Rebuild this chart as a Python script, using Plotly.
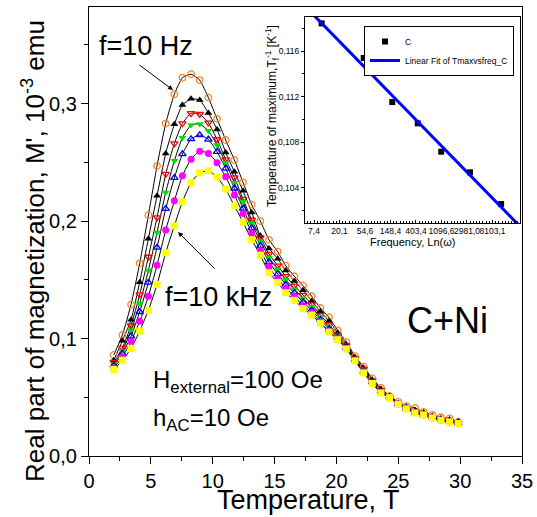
import numpy as np
import plotly.graph_objects as go

# ---------------- data: main panel ----------------
temps = [2.0, 2.7, 3.4, 4.1, 4.8, 5.5, 6.2, 6.9, 7.55, 8.25, 8.95, 9.65, 10.35, 11.05,
         11.75, 12.45, 13.15, 13.85, 14.55, 15.25, 15.9, 16.6, 17.3, 18.0, 18.7, 19.4,
         20.1, 20.8, 21.5, 22.2, 22.9, 23.6, 24.3, 25.0, 25.65, 26.35, 27.05, 27.75,
         28.45, 29.15, 29.85]

m_orange = [0.086, 0.103, 0.129, 0.164, 0.205, 0.247, 0.283, 0.308, 0.322, 0.325, 0.320,
            0.305, 0.287, 0.269, 0.252, 0.233, 0.214, 0.200, 0.184, 0.174, 0.162, 0.153,
            0.145, 0.136, 0.126, 0.118, 0.107, 0.097, 0.085, 0.076, 0.066, 0.058, 0.051,
            0.046, 0.0425, 0.041, 0.0375, 0.035, 0.033, 0.032, 0.029]
m_black = [0.0815, 0.098, 0.116, 0.148, 0.185, 0.2215, 0.2576, 0.2825, 0.2987, 0.304, 0.303,
           0.292, 0.278, 0.2584, 0.242, 0.2257, 0.2073, 0.1874, 0.1767, 0.168, 0.158, 0.149,
           0.141, 0.132, 0.123, 0.115, 0.105, 0.095, 0.084, 0.075, 0.065, 0.057, 0.051,
           0.045, 0.042, 0.039, 0.037, 0.034, 0.032, 0.031, 0.0295]
m_red = [0.080, 0.092, 0.111, 0.1375, 0.1695, 0.203, 0.240, 0.266, 0.283, 0.2917, 0.291,
         0.2837, 0.2695, 0.2524, 0.2371, 0.2187, 0.201, 0.186, 0.172, 0.162, 0.153, 0.145,
         0.137, 0.129, 0.120, 0.112, 0.103, 0.094, 0.083, 0.074, 0.064, 0.056, 0.050,
         0.045, 0.041, 0.038, 0.036, 0.033, 0.031, 0.030, 0.028]
m_green = [0.078, 0.0894, 0.107, 0.1298, 0.158, 0.1903, 0.2244, 0.2513, 0.2708, 0.2817, 0.2826,
           0.2768, 0.2647, 0.2496, 0.2325, 0.2164, 0.198, 0.183, 0.169, 0.159, 0.150, 0.142,
           0.134, 0.127, 0.118, 0.110, 0.102, 0.093, 0.082, 0.073, 0.063, 0.055, 0.050,
           0.0445, 0.041, 0.038, 0.0355, 0.033, 0.031, 0.0295, 0.028]
m_blue = [0.077, 0.0872, 0.102, 0.1227, 0.1477, 0.1775, 0.2104, 0.2368, 0.257, 0.2698, 0.2732,
          0.2695, 0.259, 0.2448, 0.2278, 0.2107, 0.194, 0.179, 0.165, 0.155, 0.146, 0.139,
          0.131, 0.124, 0.116, 0.108, 0.101, 0.092, 0.082, 0.072, 0.063, 0.055, 0.050,
          0.044, 0.0405, 0.037, 0.035, 0.033, 0.031, 0.0295, 0.028]
m_magenta = [0.075, 0.0843, 0.0977, 0.1147, 0.136, 0.1624, 0.1923, 0.2172, 0.2385, 0.2527, 0.2595,
             0.2576, 0.2496, 0.2377, 0.2221, 0.2065, 0.190, 0.175, 0.161, 0.151, 0.143, 0.136,
             0.128, 0.122, 0.114, 0.106, 0.100, 0.0915, 0.0815, 0.0715, 0.062, 0.054, 0.0495,
             0.0442, 0.0405, 0.037, 0.035, 0.0325, 0.0305, 0.029, 0.0278]
m_yellow = [0.0736, 0.0815, 0.0915, 0.1065, 0.124, 0.146, 0.173, 0.196, 0.2165, 0.2327, 0.241,
            0.2428, 0.2375, 0.2272, 0.213, 0.199, 0.184, 0.171, 0.156, 0.1477, 0.139, 0.1325,
            0.1255, 0.120, 0.113, 0.1055, 0.099, 0.091, 0.081, 0.0707, 0.0617, 0.0537, 0.0497,
            0.044, 0.040, 0.0366, 0.035, 0.0324, 0.0304, 0.029, 0.0276]

# ---------------- data: inset ----------------
ln_freq = [2.30, 3.95, 5.07, 6.07, 6.99, 8.12, 9.34]
inv_tmax = [0.11843, 0.11539, 0.11152, 0.10965, 0.10716, 0.10535, 0.10257]
inset_tickvals = [2, 3, 4, 5, 6, 7, 8, 9]
inset_ticktext = ["7,4", "20,1", "54,6", "148,4", "403,4", "1096,6", "2981,0", "8103,1"]

FONT = "Arial, Liberation Sans, sans-serif"

# plot-area geometry (pixels) used for placing annotations
L, R, T, B = 89, 522, 7, 456
PW, PH = R - L, B - T


def px(xp):
    return (xp - L) / PW


def py(yp):
    return (B - yp) / PH


series = [
    (m_orange, "circle-open", "#ff7f1e", True),
    (m_black, "triangle-up", "#000000", False),
    (m_red, "triangle-down-open", "#ff0000", True),
    (m_green, "triangle-down", "#00e000", False),
    (m_blue, "triangle-up-open", "#0000ff", True),
    (m_magenta, "circle", "#ff00ff", False),
    (m_yellow, "square", "#ffff00", False),
]

fig = go.Figure()

for vals, sym, col, is_open in series:
    fig.add_trace(go.Scatter(
        x=temps, y=vals, mode="lines",
        line=dict(color="black", width=1, shape="spline", smoothing=0.5),
        showlegend=False, hoverinfo="skip"))

for vals, sym, col, is_open in series:
    if is_open:
        marker = dict(symbol=sym, size=6.5, color=col, line=dict(color=col, width=1.3))
    else:
        marker = dict(symbol=sym, size=7, color=col, line=dict(width=0))
    fig.add_trace(go.Scatter(x=temps, y=vals, mode="markers", marker=marker,
                             showlegend=False))

# inset
fig.add_trace(go.Scatter(
    x=ln_freq, y=inv_tmax, mode="markers", name="C",
    marker=dict(symbol="square", size=6, color="black"),
    xaxis="x2", yaxis="y2"))

x_lo, x_hi = 1.647, 10.08
coef = np.polyfit(ln_freq, inv_tmax, 1)
fit_x = np.array([x_lo, x_hi])
fit_y = np.polyval(coef, fit_x)
fig.add_trace(go.Scatter(
    x=fit_x, y=fit_y, mode="lines", name="Linear Fit of Tmaxvsfreq_C",
    line=dict(color="#0000ff", width=3),
    xaxis="x2", yaxis="y2"))

fig.update_layout(
    width=537, height=517,
    margin=dict(l=L, r=537 - R, t=T, b=517 - B, autoexpand=False),
    paper_bgcolor="white", plot_bgcolor="white",
    separators=", ",
    font=dict(family=FONT, color="black"),
    xaxis=dict(
        range=[0, 35], tickvals=[0, 5, 10, 15, 20, 25, 30, 35],
        ticks="outside", ticklen=7, tickwidth=1, tickcolor="black",
        minor=dict(dtick=2.5, ticks="outside", ticklen=4, tickcolor="black"),
        showline=True, linecolor="black", linewidth=1.2, mirror=True,
        showgrid=False, zeroline=False, automargin=False,
        tickfont=dict(size=20, family=FONT),
    ),
    yaxis=dict(
        range=[0, 0.3822], tickvals=[0.0, 0.1, 0.2, 0.3], tickformat=".1f",
        ticks="outside", ticklen=7, tickwidth=1, tickcolor="black",
        minor=dict(dtick=0.05, ticks="outside", ticklen=4, tickcolor="black"),
        showline=True, linecolor="black", linewidth=1.2, mirror=True,
        showgrid=False, zeroline=False, automargin=False,
        tickfont=dict(size=20, family=FONT),
    ),
    xaxis2=dict(
        domain=[px(305), px(520)], anchor="y2",
        range=[x_lo, x_hi], tickvals=inset_tickvals, ticktext=inset_ticktext,
        tickangle=0,
        ticks="inside", ticklen=3, tickcolor="black",
        minor=dict(dtick=0.125, ticks="inside", ticklen=2, tickcolor="black"),
        showline=True, linecolor="black", linewidth=1, mirror=True,
        showgrid=False, zeroline=False, automargin=False,
        tickfont=dict(size=8.5, family=FONT),
    ),
    yaxis2=dict(
        domain=[py(223), py(17)], anchor="x2",
        range=[0.1009, 0.11899], tickvals=[0.104, 0.108, 0.112, 0.116], tickformat=".3f",
        ticks="outside", ticklen=3, tickcolor="black",
        minor=dict(dtick=0.002, ticks="outside", ticklen=2, tickcolor="black"),
        showline=True, linecolor="black", linewidth=1, mirror=True,
        showgrid=False, zeroline=False, automargin=False,
        tickfont=dict(size=8.5, family=FONT),
    ),
    legend=dict(
        x=px(364), y=py(26), xanchor="left", yanchor="top",
        bordercolor="black", borderwidth=1, bgcolor="white",
        font=dict(size=8.5, family=FONT), tracegroupgap=0, itemwidth=30,
    ),
)


def note(xp, yp, text, size, **kw):
    d = dict(x=px(xp), y=py(yp), xref="paper", yref="paper", text=text,
             showarrow=False, xanchor="center", yanchor="middle",
             font=dict(size=size, family=FONT, color="black"))
    d.update(kw)
    return d


annotations = [
    # main axis titles
    note(33, 251, "Real part of magnetization, M', 10<sup>-3</sup> emu", 26, textangle=-90),
    note(308, 500, "Temperature, T", 27),
    # inset axis titles
    note(272, 116, "Temperature of maximum,T<sub>f</sub><sup>-1</sup> [K<sup>-1</sup>]", 12,
         textangle=-90),
    note(412, 242, "Frequency, Ln(ω)", 11),
    # labels
    note(146, 46, "f=10 Hz", 27),
    note(218, 297, "f=10 kHz", 27),
    note(447, 320, "C+Ni", 36),
    note(151, 381, "H<sub>external</sub>=100 Oe", 24, xanchor="left"),
    note(151, 419, "h<sub>AC</sub>=10 Oe", 24, xanchor="left"),
    # arrows
    dict(x=px(173), y=py(90), xref="paper", yref="paper", ax=-35, ay=-26, text="",
         showarrow=True, arrowhead=2, arrowsize=1, arrowwidth=1, arrowcolor="black", standoff=0),
    dict(x=px(178), y=py(232), xref="paper", yref="paper", ax=38, ay=38, text="",
         showarrow=True, arrowhead=2, arrowsize=1, arrowwidth=1, arrowcolor="black", standoff=0),
]
fig.update_layout(annotations=annotations)

fig.write_html("out.html",
               config={"displayModeBar": False},
               post_script="document.body.style.margin='0';document.body.style.padding='0';")
